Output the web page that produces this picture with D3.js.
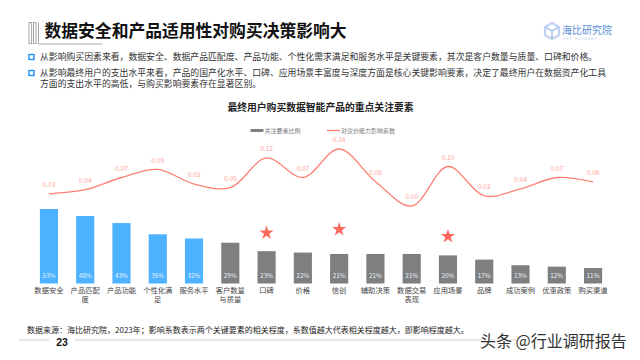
<!DOCTYPE html>
<html>
<head>
<meta charset="utf-8">
<script src="https://cdn.jsdelivr.net/npm/d3@7"></script>
<style>
    html, body { margin: 0; padding: 0; background: #fff; }
    svg { display: block; }
    text { font-family: "Noto Sans CJK SC", "Noto Sans", sans-serif; }
</style>
</head>
<body>
<div id="chart"></div>
<script>
// chart data
const categories = ["数据安全", "产品匹配度", "产品功能", "个性化满足", "服务水平", "客户数量与质量", "口碑", "价格",
    "信创", "辅助决策", "数据交易表现", "应用场景", "品牌", "成功案例", "优惠政策", "购买渠道"];
const shareValues = [53, 48, 43, 35, 32, 29, 23, 22, 21, 21, 21, 20, 17, 13, 12, 11];
const coefValues = [0.03, 0.04, 0.07, 0.09, 0.054, 0.045, 0.118, 0.07, 0.14, 0.06, 0.00, 0.097, 0.025, 0.042, 0.07, 0.059];
const coefLabels = ["0.03", "0.04", "0.07", "0.09", "0.05", "0.05", "0.12", "0.07", "0.14", "0.05", "0.00", "0.10", "0.02", "0.04", "0.07", "0.06"];
const highlighted = ["数据安全", "产品匹配度", "产品功能", "个性化满足", "服务水平"];
const starCategories = ["口碑", "信创", "应用场景"];
const starLevels = [36, 38.5, 33.5];

const titleText = "数据安全和产品适用性对购买决策影响大";
const bulletOne = ["从影响购买因素来看，数据安全、数据产品匹配度、产品功能、个性化需求满足和服务水平是关键要素，其次是客户数量与质量、口碑和价格。"];
const bulletTwo = ["从影响最终用户的支出水平来看，产品的国产化水平、口碑、应用场景丰富度与深度方面是核心关键影响要素，决定了最终用户在数据资产化工具",
    "方面的支出水平的高低，与购买影响要素存在显著区别。"];
const chartTitle = "最终用户购买数据智能产品的重点关注要素";
const legendNames = ["关注要素比例", "对议价能力影响系数"];
const sourceText = "数据来源：海比研究院，2023年；影响系数表示两个关键要素的相关程度，系数值越大代表相关程度越大，即影响程度越大。";

const svg = d3.select("#chart").append("svg")
    .attr("width", 640)
    .attr("height", 360);

// scales
const x = d3.scaleBand()
    .domain(categories)
    .range([30.8, 611.2])
    .paddingInner(0.5)
    .paddingOuter(0.25);
const yShare = d3.scaleLinear().domain([0, 53]).range([283.5, 209]);
const yCoef = d3.scaleLinear().domain([0, 0.14]).range([206, 149]);
const cx = d => x(d) + x.bandwidth() / 2;

// header
svg.append("g").selectAll("rect")
    .data([29, 33.5])
    .enter().append("rect")
    .attr("x", d => d)
    .attr("y", 22.5)
    .attr("width", 2.6)
    .attr("height", 21)
    .attr("fill", "none")
    .attr("stroke", "#a6a6a6")
    .attr("stroke-width", 1);
svg.append("path")
    .attr("d", "M38.5,22.5V44H102")
    .attr("fill", "none")
    .attr("stroke", "#a6a6a6")
    .attr("stroke-width", 1);

svg.append("text")
    .attr("x", 44.5)
    .attr("y", 37)
    .attr("font-size", 16.8)
    .attr("font-weight", 700)
    .attr("fill", "#111")
    .text(titleText);

// bullets
svg.selectAll(".bullet-mark")
    .data([57, 73])
    .enter().append("rect")
    .attr("class", "bullet-mark")
    .attr("x", 29)
    .attr("y", d => d - 2.5)
    .attr("width", 5)
    .attr("height", 5)
    .attr("fill", "#fff")
    .attr("stroke", "#1e90ff")
    .attr("stroke-width", 1.4);

svg.selectAll(".bullet-text")
    .data([bulletOne, bulletTwo])
    .enter().append("text")
    .attr("class", "bullet-text")
    .attr("font-size", 8.85)
    .attr("fill", "#333")
    .each(function(lines, k) {
        d3.select(this).selectAll("tspan")
            .data(lines)
            .enter().append("tspan")
            .attr("x", 40)
            .attr("y", (l, i) => (k === 0 ? 60.3 : 76.3) + i * 11)
            .text(l => l);
    });

// logo
const logo = svg.append("g").attr("fill", "none").attr("stroke-width", 2.2);
logo.append("path").attr("d", "M552,23L559,27L559,35L552,39L545,35L545,27Z").attr("stroke", "#c3d3f2");
logo.append("path").attr("d", "M545,27L552,31L559,27M552,31V39").attr("stroke", "#a9c9ee").attr("stroke-width", 1.6);
svg.append("text")
    .attr("x", 562)
    .attr("y", 33.5)
    .attr("font-size", 10)
    .attr("fill", "#5b8ed6")
    .text("海比研究院");
svg.append("text")
    .attr("x", 563)
    .attr("y", 39.5)
    .attr("font-size", 3)
    .attr("letter-spacing", 1.35)
    .attr("fill", "#a9bfe2")
    .text("HAP ACADEMY");

// chart title and legend
svg.append("text")
    .attr("x", 320.5)
    .attr("y", 111)
    .attr("text-anchor", "middle")
    .attr("font-size", 9.8)
    .attr("font-weight", 700)
    .attr("fill", "#222")
    .text(chartTitle);

svg.append("rect")
    .attr("x", 250.5)
    .attr("y", 129)
    .attr("width", 13)
    .attr("height", 3)
    .attr("fill", "#7f7f7f");
svg.append("line")
    .attr("x1", 327)
    .attr("x2", 340)
    .attr("y1", 130.5)
    .attr("y2", 130.5)
    .attr("stroke", "#ff7c70")
    .attr("stroke-width", 1.3);
svg.selectAll(".legend-text")
    .data(legendNames)
    .enter().append("text")
    .attr("class", "legend-text")
    .attr("x", (d, i) => [264.5, 341][i])
    .attr("y", 133)
    .attr("font-size", 6)
    .attr("fill", "#777")
    .text(d => d);

// bars
svg.selectAll(".bar")
    .data(categories)
    .enter().append("rect")
    .attr("class", "bar")
    .attr("x", d => x(d))
    .attr("width", x.bandwidth())
    .attr("y", (d, i) => yShare(shareValues[i]))
    .attr("height", (d, i) => yShare(0) - yShare(shareValues[i]))
    .attr("fill", d => highlighted.includes(d) ? "#4db2ff" : "#7f7f7f");

svg.selectAll(".bar-label")
    .data(categories)
    .enter().append("text")
    .attr("class", "bar-label")
    .attr("x", cx)
    .attr("y", 278)
    .attr("text-anchor", "middle")
    .attr("font-size", 6.4)
    .attr("fill", "#e8f3fb")
    .text((d, i) => shareValues[i] + "%");

// category labels, broken every four characters
const catLabels = svg.selectAll(".cat-label")
    .data(categories)
    .enter().append("text")
    .attr("class", "cat-label")
    .attr("text-anchor", "middle")
    .attr("font-size", 7.3)
    .attr("fill", "#444");
catLabels.each(function(d) {
    let lines = d.match(/.{1,4}/g);
    d3.select(this).selectAll("tspan")
        .data(lines)
        .enter().append("tspan")
        .attr("x", cx(d))
        .attr("y", (l, i) => 293 + i * 9.3)
        .text(l => l);
});

// coefficient line
const line = d3.line()
    .x(d => cx(d))
    .y((d, i) => yCoef(coefValues[i]))
    .curve(d3.curveCatmullRom.alpha(0.5));

svg.append("path")
    .datum(categories)
    .attr("d", line)
    .attr("fill", "none")
    .attr("stroke", "#ff7f73")
    .attr("stroke-width", 1.3);

svg.selectAll(".coef-label")
    .data(categories)
    .enter().append("text")
    .attr("class", "coef-label")
    .attr("x", cx)
    .attr("y", (d, i) => yCoef(coefValues[i]) - 6.8)
    .attr("text-anchor", "middle")
    .attr("font-size", 6.6)
    .attr("fill", "#ffa49c")
    .text((d, i) => coefLabels[i]);

// stars
const star = d3.symbol().type(d3.symbolStar).size(62);
svg.selectAll(".star")
    .data(starCategories)
    .enter().append("path")
    .attr("class", "star")
    .attr("d", star)
    .attr("fill", "#fb6a5c")
    .attr("transform", (d, i) => `translate(${cx(d)},${yShare(starLevels[i])})`);

// footer
svg.append("text")
    .attr("x", 27)
    .attr("y", 333)
    .attr("font-size", 8)
    .attr("fill", "#222")
    .text(sourceText);

svg.selectAll(".foot-line")
    .data([[19, 49], [75, 622]])
    .enter().append("line")
    .attr("class", "foot-line")
    .attr("x1", d => d[0])
    .attr("x2", d => d[1])
    .attr("y1", 340)
    .attr("y2", 340)
    .attr("stroke", "#cfcfcf")
    .attr("stroke-width", 1);

svg.append("text")
    .attr("x", 62)
    .attr("y", 345.5)
    .attr("text-anchor", "middle")
    .attr("font-size", 10.5)
    .attr("font-weight", 700)
    .attr("fill", "#111")
    .style("font-family", "'Liberation Sans', sans-serif")
    .text("23");

// watermark
svg.append("text")
    .attr("x", 480)
    .attr("y", 346.5)
    .attr("font-size", 16)
    .attr("fill", "#333")
    .attr("stroke", "#fff")
    .attr("stroke-width", 2)
    .attr("paint-order", "stroke")
    .text("头条 @行业调研报告");
</script>
</body>
</html>
